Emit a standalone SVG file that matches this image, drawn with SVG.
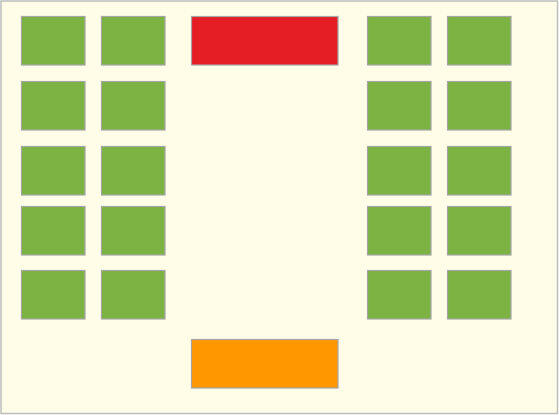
<svg xmlns="http://www.w3.org/2000/svg" width="559" height="415" viewBox="0 0 559 415">
<style>
.bg{fill:#fffde8;stroke:#bdbdbd;stroke-width:1.5}
.d{fill:#7cb342;stroke:#a6a6a6;stroke-width:1.2}
.r{fill:#e51e25;stroke:#a6a6a6;stroke-width:1.2}
.o{fill:#ff9800;stroke:#a6a6a6;stroke-width:1.2}
</style>
<rect class="bg" x="1" y="1" width="556.5" height="412.5"/>
<g id="teacher"><rect class="r" x="191.5" y="16.5" width="146.5" height="48.5"/></g>
<g id="door"><rect class="o" x="191.5" y="339.5" width="146.5" height="48.5"/></g>
<g id="desks-left">
<g id="d1"><rect class="d" x="21.5" y="16.5" width="63.5" height="48.5"/></g>
<g id="d2"><rect class="d" x="101.5" y="16.5" width="63.5" height="48.5"/></g>
<g id="d3"><rect class="d" x="21.5" y="81.5" width="63.5" height="48.5"/></g>
<g id="d4"><rect class="d" x="101.5" y="81.5" width="63.5" height="48.5"/></g>
<g id="d5"><rect class="d" x="21.5" y="146.5" width="63.5" height="48.5"/></g>
<g id="d6"><rect class="d" x="101.5" y="146.5" width="63.5" height="48.5"/></g>
<g id="d7"><rect class="d" x="21.5" y="206.5" width="63.5" height="48.5"/></g>
<g id="d8"><rect class="d" x="101.5" y="206.5" width="63.5" height="48.5"/></g>
<g id="d9"><rect class="d" x="21.5" y="270.5" width="63.5" height="48.5"/></g>
<g id="d10"><rect class="d" x="101.5" y="270.5" width="63.5" height="48.5"/></g>
</g>
<g id="desks-right">
<g id="d11"><rect class="d" x="367.5" y="16.5" width="63.5" height="48.5"/></g>
<g id="d12"><rect class="d" x="447.5" y="16.5" width="63.5" height="48.5"/></g>
<g id="d13"><rect class="d" x="367.5" y="81.5" width="63.5" height="48.5"/></g>
<g id="d14"><rect class="d" x="447.5" y="81.5" width="63.5" height="48.5"/></g>
<g id="d15"><rect class="d" x="367.5" y="146.5" width="63.5" height="48.5"/></g>
<g id="d16"><rect class="d" x="447.5" y="146.5" width="63.5" height="48.5"/></g>
<g id="d17"><rect class="d" x="367.5" y="206.5" width="63.5" height="48.5"/></g>
<g id="d18"><rect class="d" x="447.5" y="206.5" width="63.5" height="48.5"/></g>
<g id="d19"><rect class="d" x="367.5" y="270.5" width="63.5" height="48.5"/></g>
<g id="d20"><rect class="d" x="447.5" y="270.5" width="63.5" height="48.5"/></g>
</g>
<g id="connectors"/>
</svg>
